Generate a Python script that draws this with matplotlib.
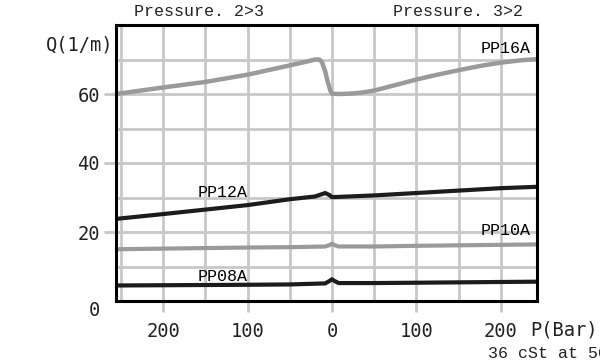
import matplotlib
matplotlib.use("Agg")
import matplotlib.pyplot as plt

# pressure (bar); negative side is flow 2>3, shown as positive on the axis
pp16a_p = [-256, -200, -150, -100, -85, -50, -30, -20, -15, -12, -8, -5, -2, 0, 10, 21, 35, 50, 80, 100, 125, 150, 175, 200, 225, 243]
pp16a_q = [60.0, 61.9, 63.5, 65.6, 66.4, 68.3, 69.4, 70.0, 70.0, 69.3, 66.5, 63.5, 61.0, 60.1, 60.0, 60.1, 60.4, 61.0, 62.9, 64.2, 65.6, 66.9, 68.1, 69.1, 69.8, 70.1]

pp12a_p = [-256, -200, -150, -100, -50, -20, -14, -8, -3, 0, 50, 100, 150, 200, 243]
pp12a_q = [23.8, 25.2, 26.5, 27.8, 29.5, 30.3, 30.8, 31.3, 30.7, 30.1, 30.6, 31.3, 32.0, 32.7, 33.1]

pp10a_p = [-256, -100, -50, -8, -3, 0, 3, 8, 50, 100, 243]
pp10a_q = [15.0, 15.5, 15.6, 15.8, 16.2, 16.6, 16.2, 15.8, 15.8, 16.0, 16.4]

pp08a_p = [-256, -100, -50, -8, -3, 0, 3, 8, 50, 100, 243]
pp08a_q = [4.5, 4.7, 4.8, 5.1, 5.8, 6.3, 5.8, 5.2, 5.2, 5.3, 5.6]

x_ticks = [-200, -100, 0, 100, 200]
x_labels = ["200", "100", "0", "100", "200"]
y_ticks = [20, 40, 60]
y_labels = ["20", "40", "60"]

GRAY = "#9a9a9a"
BLACK = "#1c1c1c"
GRID = "#c8c8c8"
MONO = "Liberation Mono"
SANSMONO = "DejaVu Sans Mono"

fig = plt.figure(figsize=(6.0, 3.62), dpi=100)
ax = fig.add_axes([116 / 600, 1 - 301 / 362, (537 - 116) / 600, (301 - 25) / 362])

ax.set_xlim(-256, 243)
ax.set_ylim(0, 80)

# grid every 50 bar / 10 l/m
for gx in range(-250, 250, 50):
    ax.axvline(gx, color=GRID, lw=2, zorder=0)
for gy in range(10, 80, 10):
    ax.axhline(gy, color=GRID, lw=2, zorder=0)

ax.plot(pp16a_p, pp16a_q, color=GRAY, lw=3.2, solid_joinstyle="round")
ax.plot(pp12a_p, pp12a_q, color=BLACK, lw=3.0, solid_joinstyle="round")
ax.plot(pp10a_p, pp10a_q, color=GRAY, lw=3.0, solid_joinstyle="round")
ax.plot(pp08a_p, pp08a_q, color=BLACK, lw=3.0, solid_joinstyle="round")

ax.text(236, 73.3, "PP16A", family=MONO, fontsize=12, ha="right", va="center")
ax.text(-100, 31.5, "PP12A", family=MONO, fontsize=12, ha="right", va="center")
ax.text(236, 20.3, "PP10A", family=MONO, fontsize=12, ha="right", va="center")
ax.text(-100, 7.2, "PP08A", family=MONO, fontsize=12, ha="right", va="center")

for s in ax.spines.values():
    s.set_linewidth(2.2)
    s.set_color("black")

ax.set_xticks(x_ticks)
ax.set_xticklabels(x_labels, family=SANSMONO, fontsize=13.5, color="#222222")
ax.set_yticks(y_ticks)
ax.set_yticklabels(y_labels, family=SANSMONO, fontsize=13.5, color="#222222")
ax.tick_params(axis="x", length=8, width=2, color=GRID, pad=7)
ax.tick_params(axis="y", length=8.5, width=2, color=GRID, pad=3)

fig.text(100 / 600, 1 - 310 / 362, "0", family=SANSMONO, fontsize=13.5,
         color="#222222", ha="right", va="center")
fig.text(113 / 600, 1 - 45 / 362, "Q(1/m)", family=SANSMONO, fontsize=13.5,
         color="#222222", ha="right", va="center")
fig.text(530 / 600, 1 - 330 / 362, "P(Bar)", family=SANSMONO, fontsize=13.5,
         color="#222222", ha="left", va="center")
fig.text(488 / 600, 1 - 353 / 362, "36 cSt at 50°C", family=MONO, fontsize=12,
         color="#222222", ha="left", va="center")
fig.text(134 / 600, 1 - 12 / 362, "Pressure. 2>3", family=MONO, fontsize=12,
         color="#222222", ha="left", va="center")
fig.text(393 / 600, 1 - 12 / 362, "Pressure. 3>2", family=MONO, fontsize=12,
         color="#222222", ha="left", va="center")

fig.savefig("out.png", dpi=100)
